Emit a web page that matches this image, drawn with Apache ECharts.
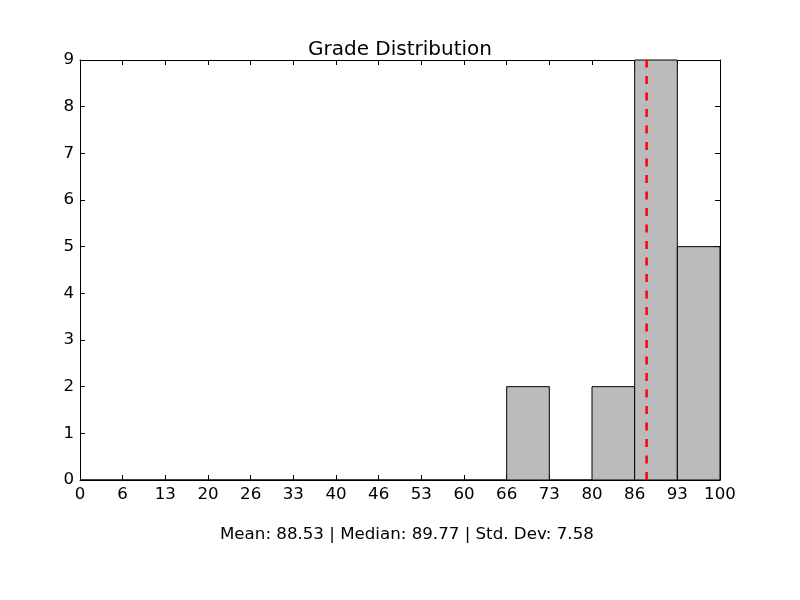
<!DOCTYPE html>
<html>
<head>
<meta charset="utf-8">
<script src="https://cdn.jsdelivr.net/npm/echarts@6/dist/echarts.min.js"></script>
<style>html,body{margin:0;padding:0;background:#fff;}#chart{width:800px;height:600px;}</style>
</head>
<body>
<div id="chart"></div>
<script>
// Data
const binEdges = [0, 6.6667, 13.3333, 20, 26.6667, 33.3333, 40, 46.6667, 53.3333, 60, 66.6667, 73.3333, 80, 86.6667, 93.3333, 100];
const counts = [0, 0, 0, 0, 0, 0, 0, 0, 0, 0, 2, 0, 2, 9, 5];
const xTickLabels = ["0","6","13","20","26","33","40","46","53","60","66","73","80","86","93","100"];
const yTickLabels = ["0","1","2","3","4","5","6","7","8","9"];
const meanValue = 88.53;
const titleText = "Grade Distribution";
const statsText = "Mean: 88.53 | Median: 89.77 | Std. Dev: 7.58";

const FONT = "DejaVu Sans";
const barData = counts.map((c, i) => [binEdges[i], binEdges[i + 1], c]);

const chart = echarts.init(document.getElementById('chart'), null, {renderer: 'canvas'});
const xInterval = 100 / 15;
function axisCommon() {
  return {
    axisLine: {show: true, onZero: false, lineStyle: {color: '#000', width: 1}},
    axisTick: {show: true, inside: true, length: 5, lineStyle: {color: '#000', width: 1}},
    splitLine: {show: false}
  };
}
chart.setOption({
  animation: false,
  backgroundColor: '#fff',
  title: {
    text: titleText, left: 'center', top: 35,
    textStyle: {fontFamily: FONT, fontSize: 20, fontWeight: 'normal', color: '#000'}
  },
  graphic: [{
    type: 'text', left: 220, top: 526,
    style: {text: statsText, font: '16.67px "DejaVu Sans"', fill: '#000'}
  }],
  grid: {left: 80, right: 80, top: 60, bottom: 120, containLabel: false},
  xAxis: [
    Object.assign({
      type: 'value', min: 0, max: 100, interval: xInterval, position: 'bottom',
      axisLabel: {
        fontFamily: FONT, fontSize: 16.67, color: '#000', margin: 6,
        formatter: v => xTickLabels[Math.round(v / xInterval)]
      }
    }, axisCommon()),
    Object.assign({
      type: 'value', min: 0, max: 100, interval: xInterval, position: 'top',
      axisLabel: {show: false}
    }, axisCommon())
  ],
  yAxis: [
    Object.assign({
      type: 'value', min: 0, max: 9, interval: 1, position: 'left',
      axisLabel: {
        fontFamily: FONT, fontSize: 16.67, color: '#000', margin: 6,
        formatter: v => yTickLabels[Math.round(v)]
      }
    }, axisCommon()),
    Object.assign({
      type: 'value', min: 0, max: 9, interval: 1, position: 'right',
      axisLabel: {show: false}
    }, axisCommon())
  ],
  series: [
    {
      type: 'custom',
      xAxisIndex: 0, yAxisIndex: 0,
      data: barData,
      encode: {x: [0, 1], y: 2},
      renderItem: function (params, api) {
        const p0 = api.coord([api.value(0), 0]);
        const p1 = api.coord([api.value(1), api.value(2)]);
        return {
          type: 'rect',
          shape: {x: p0[0], y: p1[1], width: p1[0] - p0[0], height: p0[1] - p1[1]},
          style: {fill: '#bbbbbb', stroke: '#000', lineWidth: 1}
        };
      },
      z: 2
    },
    {
      type: 'line',
      xAxisIndex: 0, yAxisIndex: 0,
      data: [[meanValue, 0], [meanValue, 9]],
      symbol: 'none',
      lineStyle: {color: '#ff0000', width: 2.5, type: [8, 8.5]},
      z: 5
    }
  ]
});
</script>
</body>
</html>
